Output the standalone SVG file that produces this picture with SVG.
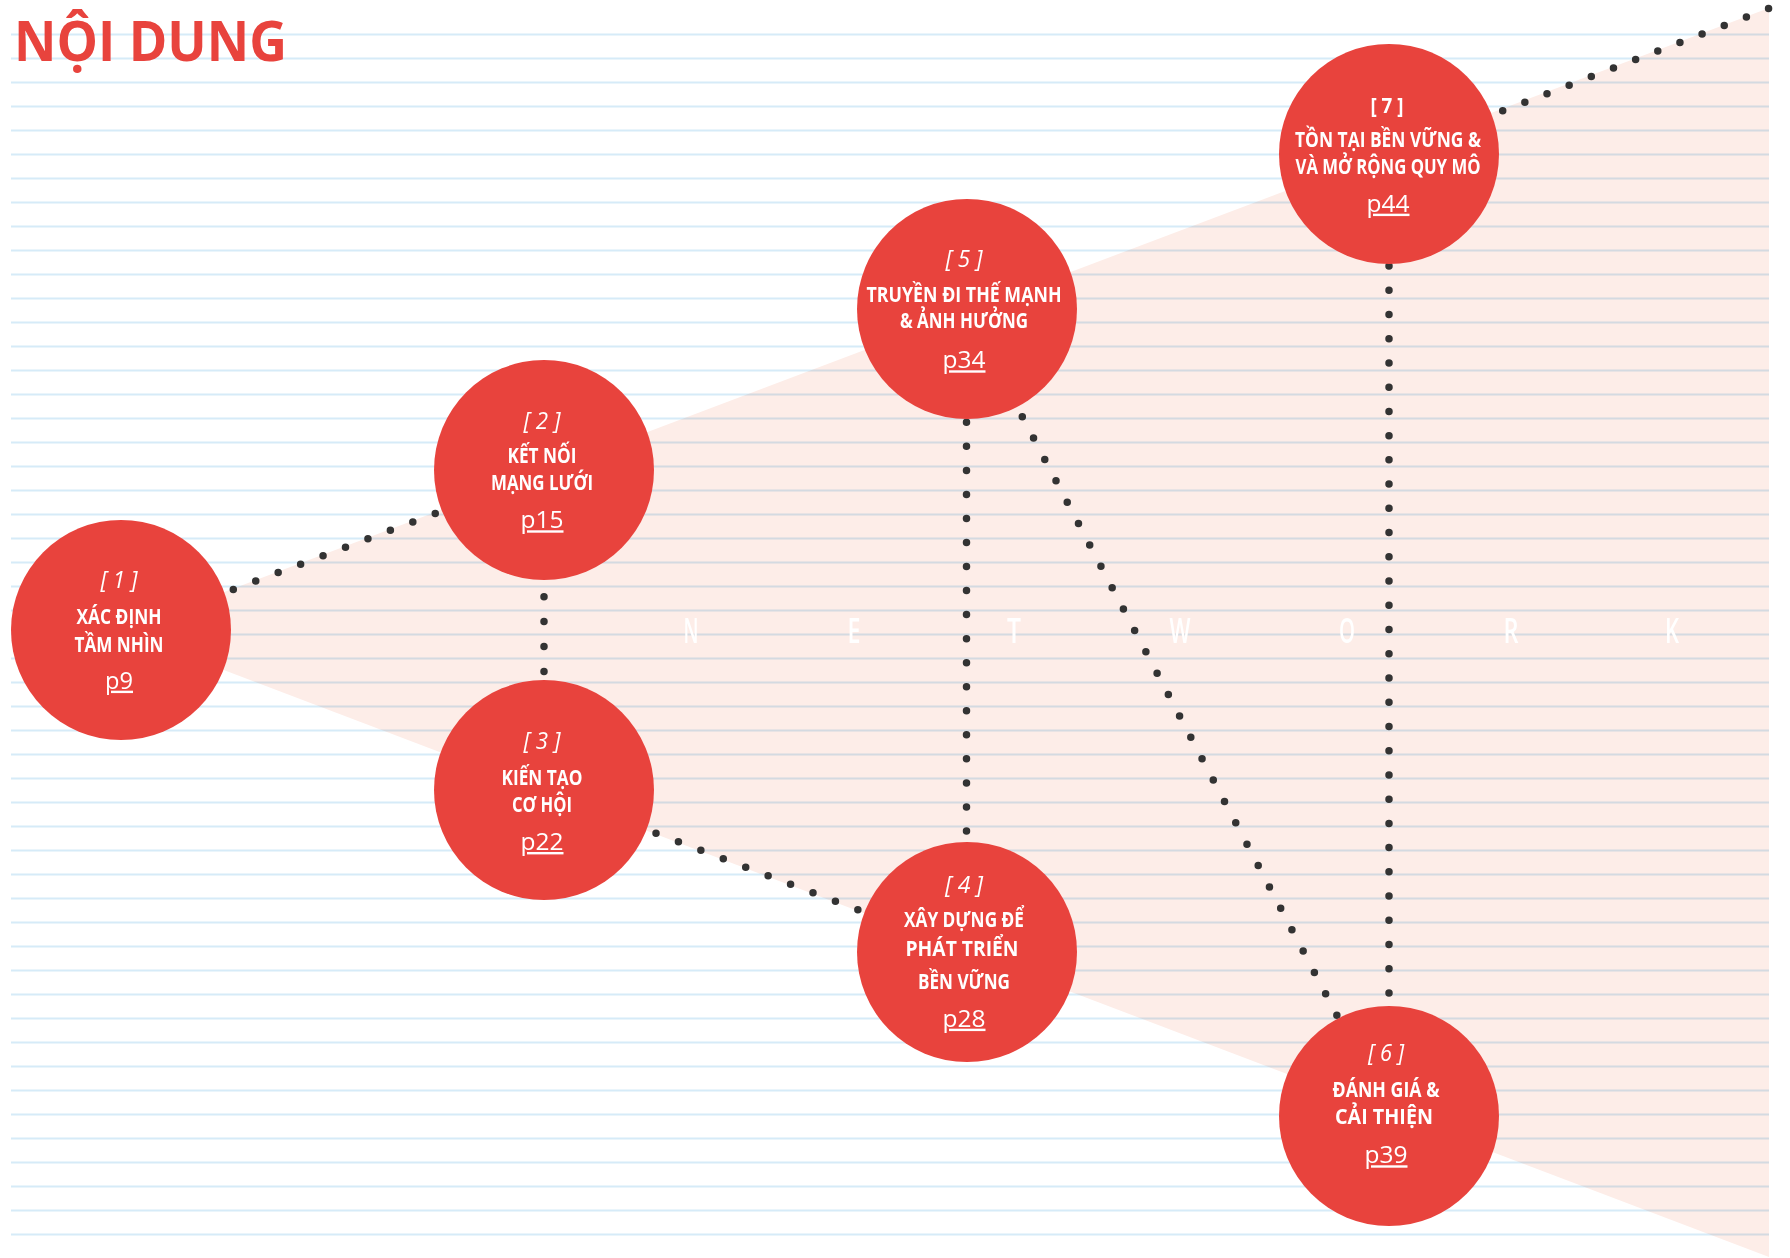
<svg xmlns="http://www.w3.org/2000/svg" width="1790" height="1258" viewBox="0 0 1790 1258">
<style>
.rule{fill:none;stroke:#d6ebf8;stroke-width:1.8;mix-blend-mode:multiply}
.dots{fill:none;stroke:#333333;stroke-width:7.5;stroke-linecap:round;stroke-dasharray:0 1}
.node{fill:#e8433d}
.num{font-family:"Open Sans","Liberation Sans",sans-serif;font-style:italic;font-weight:400;font-size:24px;fill:#ffffff;text-anchor:middle}
.lbl{font-family:"Open Sans","Liberation Sans",sans-serif;font-weight:700;font-size:22px;fill:#ffffff;text-anchor:middle}
.pg{font-family:"Open Sans","Liberation Sans",sans-serif;font-weight:400;font-size:24px;fill:#ffffff;text-anchor:middle;text-decoration:underline}
.net{font-family:"Open Sans","Liberation Sans",sans-serif;font-weight:600;font-size:34px;fill:#ffffff;text-anchor:middle}
</style>
<rect width="1790" height="1258" fill="#ffffff"/>
<polygon points="121,631 1769,8 1769,1257" fill="#fdede8"/>
<path class="rule" d="M11 34.5H1769M11 58.5H1769M11 82.5H1769M11 106.5H1769M11 130.5H1769M11 154.5H1769M11 178.5H1769M11 202.5H1769M11 226.5H1769M11 250.5H1769M11 274.5H1769M11 298.5H1769M11 322.5H1769M11 346.5H1769M11 370.5H1769M11 394.5H1769M11 418.5H1769M11 442.5H1769M11 466.5H1769M11 490.5H1769M11 514.5H1769M11 538.5H1769M11 562.5H1769M11 586.5H1769M11 610.5H1769M11 634.5H1769M11 658.5H1769M11 682.5H1769M11 706.5H1769M11 730.5H1769M11 754.5H1769M11 778.5H1769M11 802.5H1769M11 826.5H1769M11 850.5H1769M11 874.5H1769M11 898.5H1769M11 922.5H1769M11 946.5H1769M11 970.5H1769M11 994.5H1769M11 1018.5H1769M11 1042.5H1769M11 1066.5H1769M11 1090.5H1769M11 1114.5H1769M11 1138.5H1769M11 1162.5H1769M11 1186.5H1769M11 1210.5H1769M11 1234.5H1769"/>
<text x="14" y="60.5" font-family="'Open Sans','Liberation Sans',sans-serif" font-weight="700" font-size="56" fill="#e8433d" textLength="273" lengthAdjust="spacingAndGlyphs">NỘI DUNG</text>
<g id="network-word">
<text class="net" x="691" y="642.7" textLength="15" lengthAdjust="spacingAndGlyphs">N</text>
<text class="net" x="854" y="642.7" textLength="13" lengthAdjust="spacingAndGlyphs">E</text>
<text class="net" x="1014" y="642.7" textLength="14" lengthAdjust="spacingAndGlyphs">T</text>
<text class="net" x="1180" y="642.7" textLength="21" lengthAdjust="spacingAndGlyphs">W</text>
<text class="net" x="1347" y="642.7" textLength="16" lengthAdjust="spacingAndGlyphs">O</text>
<text class="net" x="1511" y="642.7" textLength="15" lengthAdjust="spacingAndGlyphs">R</text>
<text class="net" x="1672" y="642.7" textLength="14" lengthAdjust="spacingAndGlyphs">K</text>
</g>
<g id="connectors">
<path class="dots" d="M233.3 589.5L435.7 513.3" pathLength="9.02"/>
<path class="dots" d="M544 596.7V671.7" pathLength="3.01"/>
<path class="dots" d="M656 833.3L858.3 910" pathLength="9.02"/>
<path class="dots" d="M966.5 422.3V831.7" pathLength="17.03"/>
<path class="dots" d="M1022.3 416.7L1337.3 1016" pathLength="28.04"/>
<path class="dots" d="M1389 266V994" pathLength="30.04"/>
<path class="dots" d="M1502.7 110.7L1769 8.3" pathLength="12.02"/>
</g>
<g id="node1">
<circle class="node" cx="121" cy="630" r="110"/>
<text class="num" x="119" y="588" textLength="37" lengthAdjust="spacingAndGlyphs">[ 1 ]</text>
<text class="lbl" x="119" y="624" textLength="85" lengthAdjust="spacingAndGlyphs">XÁC ĐỊNH</text>
<text class="lbl" x="119" y="651.7" textLength="89" lengthAdjust="spacingAndGlyphs">TẦM NHÌN</text>
<text class="pg" x="119" y="688.7" textLength="28" lengthAdjust="spacingAndGlyphs">p9</text>
</g>
<g id="node2">
<circle class="node" cx="544" cy="470" r="110"/>
<text class="num" x="542" y="429.3" textLength="37" lengthAdjust="spacingAndGlyphs">[ 2 ]</text>
<text class="lbl" x="542" y="463.3" textLength="69" lengthAdjust="spacingAndGlyphs">KẾT NỐI</text>
<text class="lbl" x="542" y="490" textLength="102" lengthAdjust="spacingAndGlyphs">MẠNG LƯỚI</text>
<text class="pg" x="542" y="528.3" textLength="43" lengthAdjust="spacingAndGlyphs">p15</text>
</g>
<g id="node3">
<circle class="node" cx="544" cy="790" r="110"/>
<text class="num" x="542" y="749.3" textLength="37" lengthAdjust="spacingAndGlyphs">[ 3 ]</text>
<text class="lbl" x="542" y="785" textLength="81" lengthAdjust="spacingAndGlyphs">KIẾN TẠO</text>
<text class="lbl" x="542" y="811.7" textLength="60" lengthAdjust="spacingAndGlyphs">CƠ HỘI</text>
<text class="pg" x="542" y="850" textLength="43" lengthAdjust="spacingAndGlyphs">p22</text>
</g>
<g id="node4">
<circle class="node" cx="967" cy="952" r="110"/>
<text class="num" x="964" y="892.7" textLength="38" lengthAdjust="spacingAndGlyphs">[ 4 ]</text>
<text class="lbl" x="964" y="927.3" textLength="120" lengthAdjust="spacingAndGlyphs">XÂY DỰNG ĐỂ</text>
<text class="lbl" x="962" y="956" textLength="113" lengthAdjust="spacingAndGlyphs">PHÁT TRIỂN</text>
<text class="lbl" x="964" y="989.3" textLength="92" lengthAdjust="spacingAndGlyphs">BỀN VỮNG</text>
<text class="pg" x="964" y="1026.7" textLength="43" lengthAdjust="spacingAndGlyphs">p28</text>
</g>
<g id="node5">
<circle class="node" cx="967" cy="309" r="110"/>
<text class="num" x="964" y="267.3" textLength="37" lengthAdjust="spacingAndGlyphs">[ 5 ]</text>
<text class="lbl" x="964" y="301.7" textLength="195" lengthAdjust="spacingAndGlyphs">TRUYỀN ĐI THẾ MẠNH</text>
<text class="lbl" x="964" y="328.3" textLength="128" lengthAdjust="spacingAndGlyphs">&amp; ẢNH HƯỞNG</text>
<text class="pg" x="964" y="368.3" textLength="43" lengthAdjust="spacingAndGlyphs">p34</text>
</g>
<g id="node6">
<circle class="node" cx="1389" cy="1116" r="110"/>
<text class="num" x="1386" y="1061" textLength="36" lengthAdjust="spacingAndGlyphs">[ 6 ]</text>
<text class="lbl" x="1386" y="1096.7" textLength="107" lengthAdjust="spacingAndGlyphs">ĐÁNH GIÁ &amp;</text>
<text class="lbl" x="1384" y="1124" textLength="98" lengthAdjust="spacingAndGlyphs">CẢI THIỆN</text>
<text class="pg" x="1386" y="1163.3" textLength="43" lengthAdjust="spacingAndGlyphs">p39</text>
</g>
<g id="node7">
<circle class="node" cx="1389" cy="154" r="110"/>
<text class="lbl" x="1387" y="113.3" font-size="24" textLength="33" lengthAdjust="spacingAndGlyphs">[ 7 ]</text>
<text class="lbl" x="1388" y="147.3" textLength="186" lengthAdjust="spacingAndGlyphs">TỒN TẠI BỀN VỮNG &amp;</text>
<text class="lbl" x="1388" y="174.3" textLength="185" lengthAdjust="spacingAndGlyphs">VÀ MỞ RỘNG QUY MÔ</text>
<text class="pg" x="1388" y="211.7" textLength="43" lengthAdjust="spacingAndGlyphs">p44</text>
</g>
</svg>
